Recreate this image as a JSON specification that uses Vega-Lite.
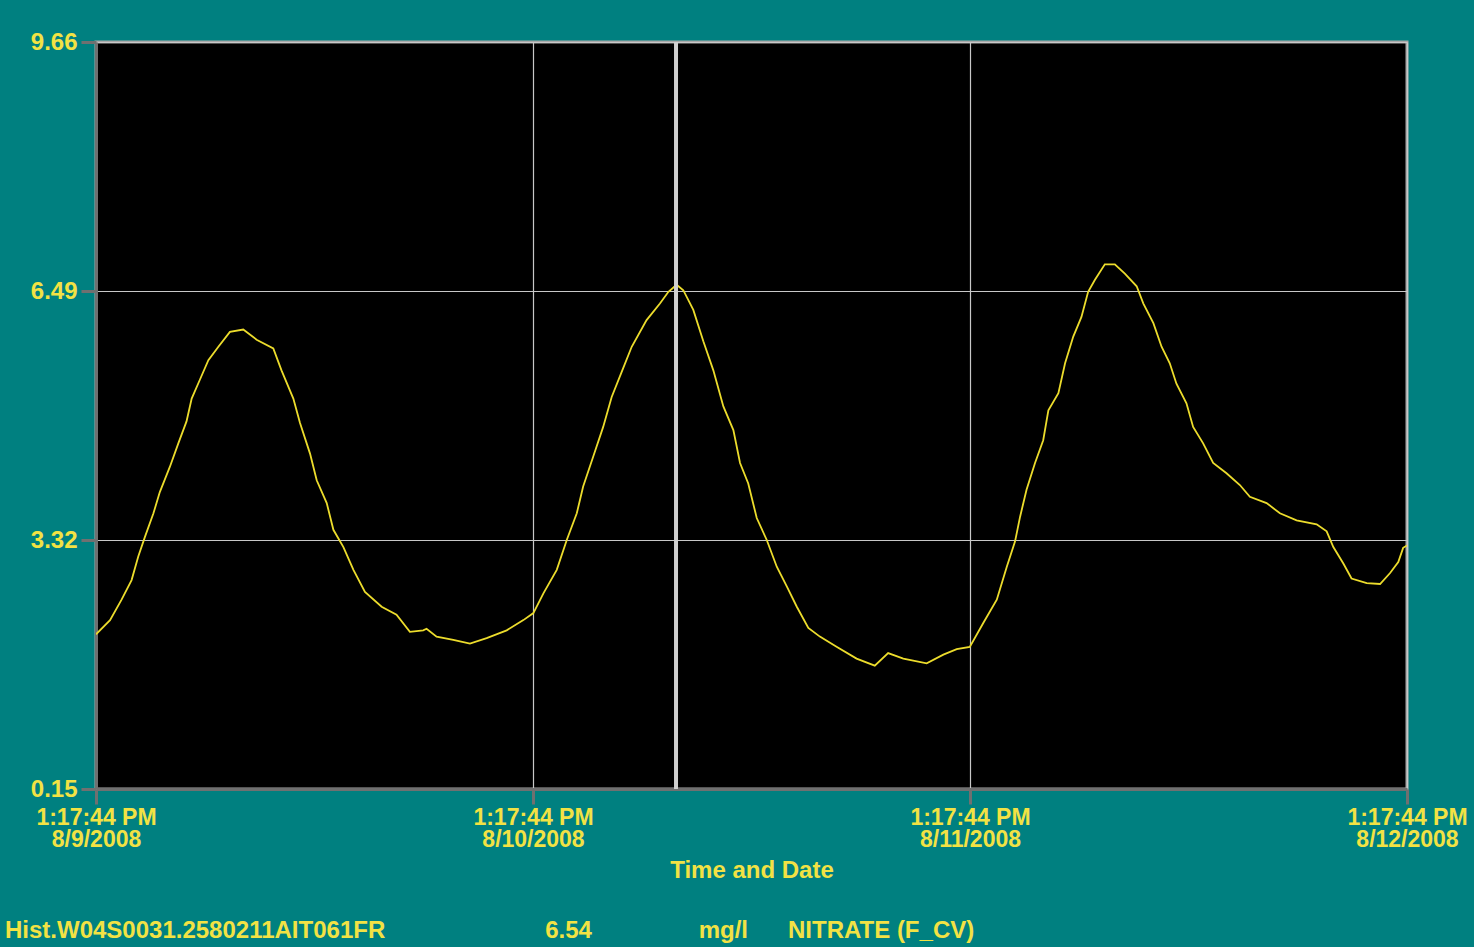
{
  "$schema": "https://vega.github.io/schema/vega-lite/v6.json",
  "width": 1311,
  "height": 747,
  "autosize": {"type": "none"},
  "padding": {"left": 96, "top": 42, "right": 67, "bottom": 158},
  "background": "#008080",
  "title": {
    "text": "Hist.W04S0031.2580211AIT061FR\u00a0\u00a0\u00a0\u00a0\u00a0\u00a0\u00a0\u00a0\u00a0\u00a0\u00a0\u00a0\u00a0\u00a0\u00a0\u00a0\u00a0\u00a0\u00a0\u00a0\u00a0\u00a0\u00a0\u00a06.54\u00a0\u00a0\u00a0\u00a0\u00a0\u00a0\u00a0\u00a0\u00a0\u00a0\u00a0\u00a0\u00a0\u00a0\u00a0\u00a0mg/l\u00a0\u00a0\u00a0\u00a0\u00a0\u00a0NITRATE (F_CV)",
    "orient": "bottom",
    "anchor": "start",
    "frame": "group",
    "dx": -91,
    "offset": 37,
    "font": "Liberation Sans",
    "fontSize": 24,
    "fontWeight": "bold",
    "color": "#f2e244"
  },
  "config": {
    "view": {"fill": "#000000", "stroke": "#a8a8a8", "strokeWidth": 3}
  },
  "layer": [
    {
      "data": {
        "values": [
          {"t": "2008-08-09T13:17:44", "v": 2.12},
          {"t": "2008-08-09T14:04:00", "v": 2.30},
          {"t": "2008-08-09T14:42:00", "v": 2.56},
          {"t": "2008-08-09T15:15:00", "v": 2.81},
          {"t": "2008-08-09T15:37:00", "v": 3.11},
          {"t": "2008-08-09T15:59:00", "v": 3.36},
          {"t": "2008-08-09T16:27:00", "v": 3.66},
          {"t": "2008-08-09T16:48:00", "v": 3.93},
          {"t": "2008-08-09T17:21:00", "v": 4.25},
          {"t": "2008-08-09T17:49:00", "v": 4.55},
          {"t": "2008-08-09T18:16:00", "v": 4.83},
          {"t": "2008-08-09T18:33:00", "v": 5.12},
          {"t": "2008-08-09T19:00:00", "v": 5.36},
          {"t": "2008-08-09T19:28:00", "v": 5.61},
          {"t": "2008-08-09T20:01:00", "v": 5.78},
          {"t": "2008-08-09T20:39:00", "v": 5.97},
          {"t": "2008-08-09T21:23:00", "v": 6.00},
          {"t": "2008-08-09T22:07:00", "v": 5.87},
          {"t": "2008-08-09T23:02:00", "v": 5.76},
          {"t": "2008-08-09T23:29:00", "v": 5.48},
          {"t": "2008-08-10T00:08:00", "v": 5.12},
          {"t": "2008-08-10T00:30:00", "v": 4.81},
          {"t": "2008-08-10T01:03:00", "v": 4.42},
          {"t": "2008-08-10T01:25:00", "v": 4.08},
          {"t": "2008-08-10T01:58:00", "v": 3.79},
          {"t": "2008-08-10T02:20:00", "v": 3.45},
          {"t": "2008-08-10T02:53:00", "v": 3.23},
          {"t": "2008-08-10T03:26:00", "v": 2.94},
          {"t": "2008-08-10T04:04:00", "v": 2.66},
          {"t": "2008-08-10T04:59:00", "v": 2.47},
          {"t": "2008-08-10T05:48:00", "v": 2.37},
          {"t": "2008-08-10T06:32:00", "v": 2.15},
          {"t": "2008-08-10T07:16:00", "v": 2.17},
          {"t": "2008-08-10T07:27:00", "v": 2.19},
          {"t": "2008-08-10T08:00:00", "v": 2.09},
          {"t": "2008-08-10T08:55:00", "v": 2.05},
          {"t": "2008-08-10T09:50:00", "v": 2.00},
          {"t": "2008-08-10T10:45:00", "v": 2.07},
          {"t": "2008-08-10T11:51:00", "v": 2.17},
          {"t": "2008-08-10T12:46:00", "v": 2.30},
          {"t": "2008-08-10T13:19:00", "v": 2.39},
          {"t": "2008-08-10T13:52:00", "v": 2.64},
          {"t": "2008-08-10T14:36:00", "v": 2.94},
          {"t": "2008-08-10T15:09:00", "v": 3.32},
          {"t": "2008-08-10T15:42:00", "v": 3.66},
          {"t": "2008-08-10T16:03:00", "v": 4.00},
          {"t": "2008-08-10T16:36:00", "v": 4.38},
          {"t": "2008-08-10T17:09:00", "v": 4.76},
          {"t": "2008-08-10T17:37:00", "v": 5.14},
          {"t": "2008-08-10T18:10:00", "v": 5.46},
          {"t": "2008-08-10T18:43:00", "v": 5.78},
          {"t": "2008-08-10T19:32:00", "v": 6.12},
          {"t": "2008-08-10T20:16:00", "v": 6.33},
          {"t": "2008-08-10T20:44:00", "v": 6.48},
          {"t": "2008-08-10T21:11:00", "v": 6.57},
          {"t": "2008-08-10T21:33:00", "v": 6.50},
          {"t": "2008-08-10T22:06:00", "v": 6.25},
          {"t": "2008-08-10T22:39:00", "v": 5.85},
          {"t": "2008-08-10T23:12:00", "v": 5.48},
          {"t": "2008-08-10T23:45:00", "v": 5.02},
          {"t": "2008-08-11T00:18:00", "v": 4.72},
          {"t": "2008-08-11T00:40:00", "v": 4.30},
          {"t": "2008-08-11T01:07:00", "v": 4.04},
          {"t": "2008-08-11T01:35:00", "v": 3.60},
          {"t": "2008-08-11T02:08:00", "v": 3.32},
          {"t": "2008-08-11T02:41:00", "v": 2.98},
          {"t": "2008-08-11T03:14:00", "v": 2.73},
          {"t": "2008-08-11T03:47:00", "v": 2.47},
          {"t": "2008-08-11T04:25:00", "v": 2.20},
          {"t": "2008-08-11T05:03:00", "v": 2.09},
          {"t": "2008-08-11T05:58:00", "v": 1.96},
          {"t": "2008-08-11T07:04:00", "v": 1.81},
          {"t": "2008-08-11T08:04:00", "v": 1.72},
          {"t": "2008-08-11T08:48:00", "v": 1.88},
          {"t": "2008-08-11T09:38:00", "v": 1.81},
          {"t": "2008-08-11T10:55:00", "v": 1.75},
          {"t": "2008-08-11T11:50:00", "v": 1.86},
          {"t": "2008-08-11T12:34:00", "v": 1.93},
          {"t": "2008-08-11T13:17:00", "v": 1.96},
          {"t": "2008-08-11T14:01:00", "v": 2.26},
          {"t": "2008-08-11T14:46:00", "v": 2.56},
          {"t": "2008-08-11T15:19:00", "v": 2.98},
          {"t": "2008-08-11T15:46:00", "v": 3.30},
          {"t": "2008-08-11T16:03:00", "v": 3.62},
          {"t": "2008-08-11T16:24:00", "v": 3.96},
          {"t": "2008-08-11T16:52:00", "v": 4.30},
          {"t": "2008-08-11T17:19:00", "v": 4.59},
          {"t": "2008-08-11T17:36:00", "v": 4.97},
          {"t": "2008-08-11T18:09:00", "v": 5.19},
          {"t": "2008-08-11T18:31:00", "v": 5.57},
          {"t": "2008-08-11T18:58:00", "v": 5.91},
          {"t": "2008-08-11T19:25:00", "v": 6.16},
          {"t": "2008-08-11T19:47:00", "v": 6.48},
          {"t": "2008-08-11T20:09:00", "v": 6.63},
          {"t": "2008-08-11T20:42:00", "v": 6.83},
          {"t": "2008-08-11T21:15:00", "v": 6.83},
          {"t": "2008-08-11T21:48:00", "v": 6.71},
          {"t": "2008-08-11T22:27:00", "v": 6.55},
          {"t": "2008-08-11T22:49:00", "v": 6.33},
          {"t": "2008-08-11T23:22:00", "v": 6.08},
          {"t": "2008-08-11T23:49:00", "v": 5.78},
          {"t": "2008-08-12T00:16:00", "v": 5.57},
          {"t": "2008-08-12T00:38:00", "v": 5.31},
          {"t": "2008-08-12T01:11:00", "v": 5.06},
          {"t": "2008-08-12T01:33:00", "v": 4.76},
          {"t": "2008-08-12T02:06:00", "v": 4.55},
          {"t": "2008-08-12T02:39:00", "v": 4.30},
          {"t": "2008-08-12T03:23:00", "v": 4.17},
          {"t": "2008-08-12T04:07:00", "v": 4.02},
          {"t": "2008-08-12T04:40:00", "v": 3.87},
          {"t": "2008-08-12T05:35:00", "v": 3.79},
          {"t": "2008-08-12T06:19:00", "v": 3.66},
          {"t": "2008-08-12T07:14:00", "v": 3.57},
          {"t": "2008-08-12T08:20:00", "v": 3.52},
          {"t": "2008-08-12T08:53:00", "v": 3.43},
          {"t": "2008-08-12T09:15:00", "v": 3.23},
          {"t": "2008-08-12T09:48:00", "v": 3.02},
          {"t": "2008-08-12T10:15:00", "v": 2.83},
          {"t": "2008-08-12T11:05:00", "v": 2.77},
          {"t": "2008-08-12T11:49:00", "v": 2.76},
          {"t": "2008-08-12T12:22:00", "v": 2.90},
          {"t": "2008-08-12T12:49:00", "v": 3.04},
          {"t": "2008-08-12T13:05:00", "v": 3.22},
          {"t": "2008-08-12T13:17:44", "v": 3.25}
        ]
      },
      "mark": {"type": "line", "color": "#ecdc2c", "strokeWidth": 1.8, "clip": true},
      "encoding": {
        "x": {
          "field": "t",
          "type": "temporal",
          "scale": {
            "domain": [
              {"year": 2008, "month": 8, "date": 9, "hours": 13, "minutes": 17, "seconds": 44},
              {"year": 2008, "month": 8, "date": 12, "hours": 13, "minutes": 17, "seconds": 44}
            ],
            "nice": false
          },
          "axis": {
            "values": [
              {"year": 2008, "month": 8, "date": 9, "hours": 13, "minutes": 17, "seconds": 44},
              {"year": 2008, "month": 8, "date": 10, "hours": 13, "minutes": 17, "seconds": 44},
              {"year": 2008, "month": 8, "date": 11, "hours": 13, "minutes": 17, "seconds": 44},
              {"year": 2008, "month": 8, "date": 12, "hours": 13, "minutes": 17, "seconds": 44}
            ],
            "title": "Time and Date",
            "labelExpr": "[timeFormat(datum.value, '%-I:%M:%S %p'), timeFormat(datum.value, '%-m/%-d/%Y')]",
            "labelFont": "Liberation Sans",
            "labelFontSize": 23,
            "labelFontWeight": "bold",
            "labelColor": "#f2e244",
            "labelLineHeight": 22,
            "labelPadding": 2,
            "labelFlush": false,
            "labelOverlap": false,
            "labelBound": false,
            "tickSize": 15,
            "tickWidth": 3,
            "tickColor": "#707070",
            "domainColor": "#707070",
            "domainWidth": 3,
            "grid": true,
            "gridColor": "#c8c8c8",
            "gridWidth": 1.2,
            "gridOpacity": 1,
            "titleFont": "Liberation Sans",
            "titleFontSize": 24,
            "titleFontWeight": "bold",
            "titleColor": "#f2e244",
            "titlePadding": 7
          }
        },
        "y": {
          "field": "v",
          "type": "quantitative",
          "scale": {"domain": [0.15, 9.66], "nice": false, "zero": false},
          "axis": {
            "values": [0.15, 3.32, 6.49, 9.66],
            "format": ".2f",
            "title": null,
            "labelFont": "Liberation Sans",
            "labelFontSize": 24,
            "labelFontWeight": "bold",
            "labelColor": "#f2e244",
            "labelPadding": 4,
            "labelFlush": false,
            "labelOverlap": false,
            "labelBound": false,
            "tickSize": 15,
            "tickWidth": 3,
            "tickColor": "#707070",
            "domainColor": "#707070",
            "domainWidth": 3,
            "grid": true,
            "gridColor": "#c8c8c8",
            "gridWidth": 1.2,
            "gridOpacity": 1
          }
        }
      }
    },
    {
      "data": {"values": [{"t": "2008-08-10T21:09:00"}]},
      "mark": {"type": "rule", "color": "#d0d0d0", "strokeWidth": 4},
      "encoding": {"x": {"field": "t", "type": "temporal"}}
    }
  ]
}
